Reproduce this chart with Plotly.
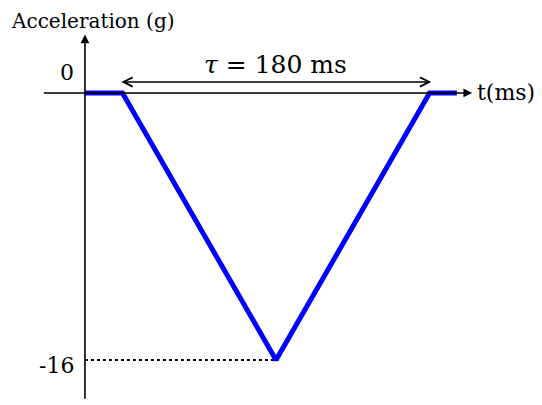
import plotly.graph_objects as go

# pulse profile (t in ms, acceleration in g)
t_pulse = [0, 22, 112, 202, 218]
acc_pulse = [0, 0, -16, 0, 0]
peak_t = 112
peak_acc = -16
tau_start = 20.5
tau_end = 203
tau_label = "<i>τ</i> = 180 ms"
y_ticks = [0, -16]
y_tick_text = ["0", "-16"]

FONT = "DejaVu Serif"

fig = go.Figure()

# dotted guide to the minimum
fig.add_trace(go.Scatter(
    x=[0, peak_t], y=[peak_acc, peak_acc], mode="lines",
    line=dict(color="black", width=2, dash="dot"), hoverinfo="skip"))

# the pulse itself
fig.add_trace(go.Scatter(
    x=t_pulse, y=acc_pulse, mode="lines",
    line=dict(color="#0000ff", width=5), hoverinfo="skip"))

ann = []
# horizontal axis with arrow
ann.append(dict(x=227, y=0, ax=-25, ay=0, xref="x", yref="y", axref="x", ayref="y",
                showarrow=True, arrowhead=2, arrowsize=1.1, arrowwidth=1.6,
                arrowcolor="black", text=""))
# vertical axis with arrow
ann.append(dict(x=0, y=3.5, ax=0, ay=-18.4, xref="x", yref="y", axref="x", ayref="y",
                showarrow=True, arrowhead=2, arrowsize=1.1, arrowwidth=1.6,
                arrowcolor="black", text=""))
# tau double arrow
ann.append(dict(x=tau_end, y=0.66, ax=tau_start, ay=0.66, xref="x", yref="y",
                axref="x", ayref="y", showarrow=True, arrowhead=5, startarrowhead=5,
                arrowside="end+start", arrowsize=1.3, startarrowsize=1.3,
                arrowwidth=1.4, arrowcolor="black", text=""))
ann.append(dict(x=(tau_start + tau_end) / 2, y=1.7, xref="x", yref="y", text=tau_label,
                showarrow=False, font=dict(family=FONT, size=25, color="black")))
# labels
ann.append(dict(x=0.004, y=1.0, xref="paper", yref="paper", text="Acceleration (g)",
                showarrow=False, xanchor="left", yanchor="top", borderpad=0,
                font=dict(family=FONT, size=20, color="black")))
ann.append(dict(x=228.5, y=0, xref="x", yref="y", text="t(ms)", xanchor="left",
                showarrow=False, font=dict(family=FONT, size=22, color="black")))
for v, s in zip(y_ticks, y_tick_text):
    ann.append(dict(x=-5.5, y=v + (1.2 if v == 0 else -0.3), xref="x", yref="y", text=s,
                    xanchor="right", showarrow=False,
                    font=dict(family=FONT, size=22, color="black")))

fig.update_layout(
    width=542, height=405,
    margin=dict(l=0, r=0, t=0, b=0),
    plot_bgcolor="white", paper_bgcolor="white",
    showlegend=False,
    annotations=ann,
    xaxis=dict(range=[-45.1, 272.6], visible=False, fixedrange=True),
    yaxis=dict(range=[-19.17, 5.09], visible=False, fixedrange=True),
)

fig.write_html("out.html")
